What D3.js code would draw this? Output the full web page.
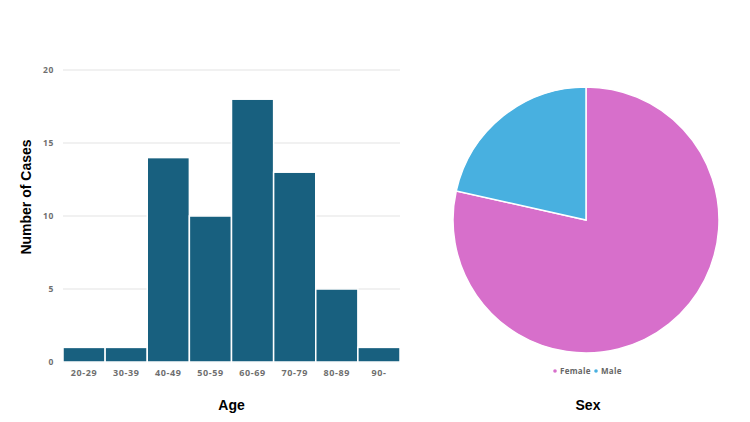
<!DOCTYPE html>
<html>
<head>
<meta charset="utf-8">
<script src="https://cdn.jsdelivr.net/npm/d3@7"></script>
<style>
  body { margin: 0; background: #fff; }
  .tick text { font-family: "Open Sans", sans-serif; font-weight: 700; fill: #6f6f6f; letter-spacing: 0.6px; }
</style>
</head>
<body>
<script>
// age histogram data
var ageGroups = ["20-29", "30-39", "40-49", "50-59", "60-69", "70-79", "80-89", "90-"];
var ageCounts = [1, 1, 14, 10, 18, 13, 5, 1];
var yTicks = [0, 5, 10, 15, 20];

// sex pie data (share)
var sexLabels = ["Female", "Male"];
var sexShares = [78.5, 21.5];
var sexColors = ["#d76fcb", "#48b0e0"];

var svg = d3.select("body").append("svg")
    .attr("width", 750)
    .attr("height", 422);

// ---- bar chart ----
var margin = {top: 70, left: 63},
    width = 337,
    height = 292;

var g = svg.append("g")
    .attr("transform", "translate(" + margin.left + "," + margin.top + ")");

var x = d3.scaleBand().domain(ageGroups).range([0, width]).padding(0);
var y = d3.scaleLinear().domain([0, 20]).range([height, 0]);

// gridlines
g.append("g")
    .selectAll("line")
    .data(yTicks)
    .enter().append("line")
    .attr("x1", 0)
    .attr("x2", width)
    .attr("y1", function(d) { return y(d); })
    .attr("y2", function(d) { return y(d); })
    .style("stroke", "#e3e3e3")
    .style("stroke-width", 1);

// y axis labels
var yAxis = g.append("g")
    .call(d3.axisLeft(y).tickValues(yTicks).tickSize(0).tickPadding(9));
yAxis.select(".domain").remove();
yAxis.selectAll("text").style("font-size", "8.5px");

// bars
g.selectAll(".bar")
    .data(ageCounts)
    .enter().append("rect")
    .attr("class", "bar")
    .attr("x", function(d, i) { return x(ageGroups[i]); })
    .attr("width", x.bandwidth())
    .attr("y", function(d) { return y(d); })
    .attr("height", function(d) { return height - y(d); })
    .style("fill", "#18607f")
    .style("stroke", "#fff")
    .style("stroke-width", 1.5);

// x axis labels
var xAxis = g.append("g")
    .attr("transform", "translate(0," + height + ")")
    .call(d3.axisBottom(x).tickSize(0).tickPadding(8));
xAxis.select(".domain").remove();
xAxis.selectAll("text").style("font-size", "9px");

// axis titles
svg.append("text")
    .attr("transform", "translate(31,197) rotate(-90)")
    .attr("text-anchor", "middle")
    .style("font-family", "Liberation Sans, Arial, sans-serif")
    .style("font-weight", "700")
    .style("font-size", "14px")
    .text("Number of Cases");

svg.append("text")
    .attr("x", margin.left + width / 2)
    .attr("y", 410)
    .attr("text-anchor", "middle")
    .style("font-family", "Liberation Sans, Arial, sans-serif")
    .style("font-weight", "700")
    .style("font-size", "14px")
    .text("Age");

// ---- pie chart ----
var radius = 133;
var pg = svg.append("g")
    .attr("transform", "translate(586,220)");

var pie = d3.pie().sort(null).startAngle(0).endAngle(2 * Math.PI);
var arc = d3.arc().innerRadius(0).outerRadius(radius);

pg.selectAll("path")
    .data(pie(sexShares))
    .enter().append("path")
    .attr("d", arc)
    .style("fill", function(d, i) { return sexColors[i]; })
    .style("stroke", "#fff")
    .style("stroke-width", 1.5);

// legend
var legend = svg.append("g")
    .attr("transform", "translate(555,371)");
var legendX = [0, 41];
sexLabels.forEach(function(name, i) {
    legend.append("circle")
        .attr("cx", legendX[i])
        .attr("cy", 0)
        .attr("r", 1.8)
        .style("fill", sexColors[i]);
    legend.append("text")
        .attr("x", legendX[i] + 5)
        .attr("y", 0)
        .attr("dy", "0.35em")
        .style("font-family", "Open Sans, sans-serif")
        .style("font-weight", "700")
        .style("font-size", "8px")
        .style("letter-spacing", "0.3px")
        .style("fill", "#666")
        .text(name);
});

svg.append("text")
    .attr("x", 588)
    .attr("y", 410)
    .attr("text-anchor", "middle")
    .style("font-family", "Liberation Sans, Arial, sans-serif")
    .style("font-weight", "700")
    .style("font-size", "14px")
    .text("Sex");
</script>
</body>
</html>
